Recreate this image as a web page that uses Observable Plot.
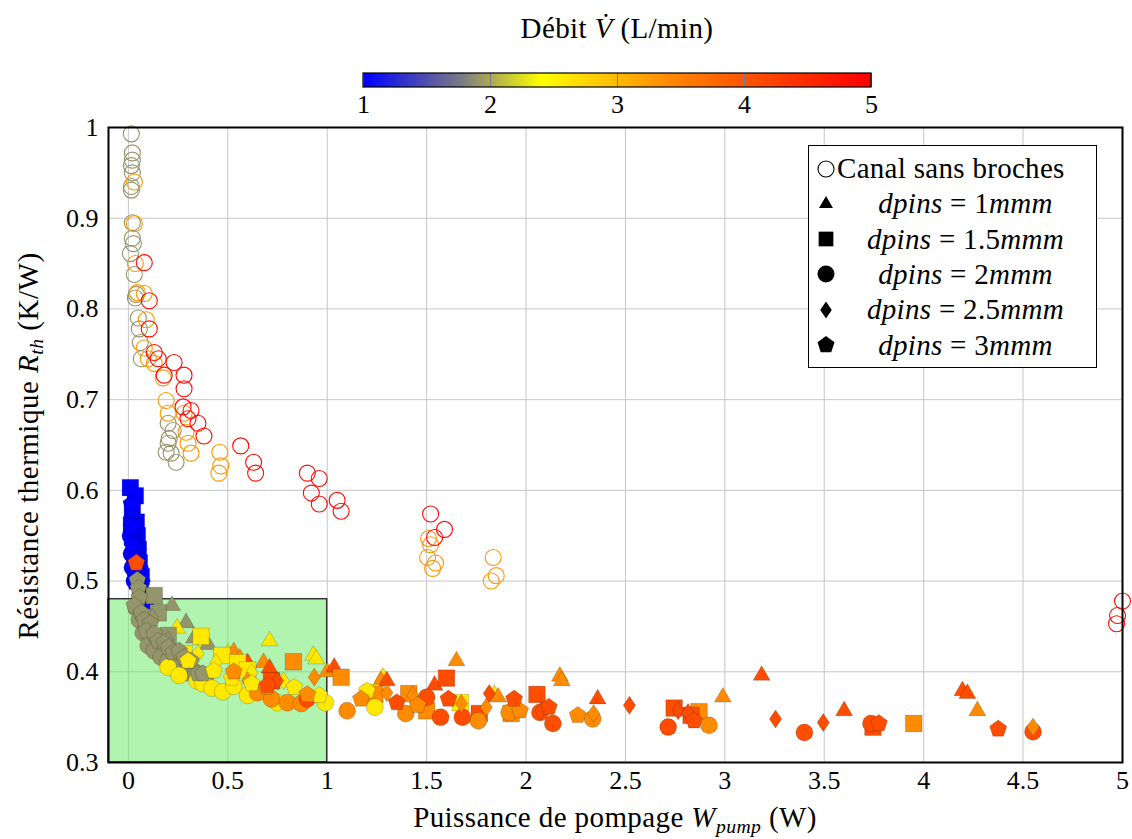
<!DOCTYPE html>
<html><head><meta charset="utf-8">
<script src="https://cdn.jsdelivr.net/npm/d3@7"></script>
<script src="https://cdn.jsdelivr.net/npm/@observablehq/plot@0.6"></script>
<style>
body{margin:0;background:#fff;}
#wrap{position:relative;width:1132px;height:839px;overflow:hidden;font-family:"Liberation Serif",serif;color:#000;}
.abs{position:absolute;}
#title{left:0;width:1234px;top:12px;text-align:center;font-size:29px;letter-spacing:0.4px;}
#cbar{left:0;top:60px;z-index:3;}
#xtitle{left:108px;width:1014px;top:801px;text-align:center;font-size:29px;letter-spacing:0.4px;line-height:32px;}
#ytitle{left:28px;top:446px;transform:translate(-50%,-50%) rotate(-90deg);white-space:nowrap;font-size:29px;letter-spacing:0.5px;}
#legend{left:808px;top:145px;width:287px;height:221px;border:1.5px solid #000;background:#fff;font-size:29px;z-index:2;}
.row{position:absolute;left:0;width:287px;height:35px;display:flex;align-items:center;}
.row svg{position:absolute;left:6px;}
.row .t{position:absolute;left:26px;right:0px;text-align:center;white-space:nowrap;letter-spacing:0.3px;}
sub{font-size:68%;vertical-align:-0.3em;line-height:0;}
</style></head><body><div id="wrap">
<div id="title" class="abs">Débit <i>V̇</i> (L/min)</div>
<div id="chart" class="abs" style="left:0;top:112px;"></div>
<div id="cbar" class="abs"></div>
<div id="xtitle" class="abs">Puissance de pompage <i>W</i><sub><i>pump</i></sub> (W)</div>
<div id="ytitle" class="abs">Résistance thermique <i>R</i><sub><i>th</i></sub> (K/W)</div>
<div id="legend" class="abs"></div>
</div>
<script>
// ---------- data: [W_pump (W), R_th (K/W), débit (L/min)] ----------
const canal = [
 [0.015,0.993,1.9],[0.02,0.972,1.9],[0.02,0.964,1.9],[0.015,0.958,1.9],[0.02,0.950,1.9],[0.015,0.935,1.9],[0.015,0.931,1.9],
 [0.02,0.895,1.9],[0.02,0.878,1.9],[0.025,0.872,1.9],[0.01,0.861,1.9],[0.03,0.838,1.9],[0.04,0.816,1.9],[0.035,0.812,1.9],
 [0.05,0.790,1.9],[0.055,0.778,1.9],[0.06,0.763,1.9],[0.065,0.745,1.9],[0.2,0.674,1.9],[0.225,0.666,1.9],[0.205,0.657,1.9],
 [0.2,0.652,1.9],[0.19,0.642,1.9],[0.215,0.641,1.9],[0.24,0.631,1.9],
 [0.03,0.940,3.3],[0.03,0.894,3.3],[0.035,0.850,3.3],[0.045,0.818,3.3],[0.08,0.817,3.3],[0.09,0.788,3.3],[0.08,0.757,3.3],
 [0.1,0.745,3.3],[0.13,0.740,3.3],[0.175,0.724,3.3],[0.19,0.699,3.3],[0.2,0.685,3.3],[0.28,0.685,3.3],[0.29,0.664,3.3],
 [0.3,0.652,3.3],[0.315,0.641,3.3],[0.46,0.642,3.3],[0.465,0.627,3.3],[0.455,0.619,3.3],
 [1.51,0.547,3.3],[1.52,0.540,3.3],[1.505,0.526,3.3],[1.545,0.520,3.3],[1.53,0.514,3.3],
 [1.835,0.526,3.3],[1.85,0.506,3.3],[1.825,0.500,3.3],
 [0.08,0.851,4.9],[0.105,0.809,4.9],[0.105,0.778,4.9],[0.13,0.752,4.9],[0.15,0.745,4.9],[0.23,0.741,4.9],[0.18,0.727,4.9],
 [0.28,0.727,4.9],[0.28,0.712,4.9],[0.275,0.692,4.9],[0.315,0.688,4.9],[0.3,0.679,4.9],[0.35,0.674,4.9],[0.38,0.660,4.9],
 [0.565,0.649,4.9],[0.63,0.631,4.9],[0.64,0.619,4.9],[0.9,0.619,4.9],[0.92,0.597,4.9],[0.96,0.585,4.9],[0.96,0.613,4.9],
 [1.05,0.589,4.9],[1.07,0.577,4.9],[1.52,0.574,4.9],[1.59,0.557,4.9],[1.54,0.548,4.9],
 [5.0,0.478,4.9],[4.975,0.462,4.9],[4.97,0.453,4.9]
];
const pins1 = [
 [0.02,0.59,1],[0.035,0.57,1],[0.04,0.555,1],[0.05,0.54,1],[0.06,0.52,1],[0.07,0.505,1],[0.08,0.49,1],
 [0.22,0.473,1.9],[0.29,0.454,1.9],[0.33,0.437,1.9],[0.4,0.43,1.9],
 [0.245,0.448,2.6],[0.5,0.42,2.6],[0.71,0.434,2.6],[0.93,0.418,2.6],[0.945,0.414,2.6],[1.28,0.394,2.6],[1.84,0.375,2.6],
 [0.53,0.422,3.4],[0.56,0.415,3.4],[0.68,0.41,3.4],[1.0,0.4,3.4],[1.27,0.39,3.4],[1.65,0.412,3.4],[1.86,0.372,3.4],
 [2.17,0.395,3.4],[2.18,0.39,3.4],[2.99,0.372,3.4],[4.27,0.357,3.4],
 [0.6,0.41,4.1],[0.71,0.404,4.1],[1.035,0.405,4.1],[1.3,0.39,4.1],[1.54,0.385,4.1],[2.36,0.37,4.1],[3.185,0.396,4.1],
 [3.6,0.357,4.1],[4.195,0.379,4.1],[4.22,0.376,4.1]
];
const pins15 = [
 [0.01,0.603,1],[0.035,0.594,1],[0.02,0.578,1],[0.04,0.565,1],[0.015,0.562,1],[0.045,0.55,1],[0.02,0.548,1],[0.05,0.535,1],
 [0.03,0.532,1],[0.055,0.52,1],[0.035,0.515,1],[0.065,0.505,1],[0.045,0.5,1],[0.06,0.49,1],[0.085,0.482,1],[0.07,0.478,1],
 [0.13,0.484,1.9],[0.15,0.465,1.9],[0.2,0.44,1.9],
 [0.28,0.42,2.6],[0.365,0.439,2.6],[0.47,0.418,2.6],[0.55,0.41,2.6],[0.6,0.402,2.6],[1.22,0.377,2.6],[1.67,0.366,2.6],
 [0.83,0.411,3.4],[1.07,0.394,3.4],[1.24,0.375,3.4],[1.41,0.376,3.4],[1.5,0.357,3.4],[1.925,0.354,3.4],[2.87,0.356,3.4],[3.95,0.343,3.4],
 [0.72,0.39,4.1],[1.6,0.393,4.1],[1.765,0.354,4.1],[2.055,0.375,4.1],[2.745,0.36,4.1],[2.83,0.352,4.1],[3.745,0.339,4.1]
];
const pins2 = [
 [0.01,0.55,1],[0.015,0.53,1],[0.02,0.515,1],[0.03,0.5,1],
 [0.04,0.47,1.9],[0.055,0.457,1.9],[0.075,0.443,1.9],[0.1,0.429,1.9],[0.13,0.423,1.9],[0.165,0.416,1.9],[0.2,0.412,1.9],
 [0.25,0.407,1.9],[0.29,0.399,1.9],[0.34,0.399,1.9],[0.39,0.396,1.9],
 [0.2,0.405,2.6],[0.255,0.396,2.6],[0.345,0.39,2.6],[0.375,0.387,2.6],[0.42,0.382,2.6],[0.475,0.378,2.6],[0.53,0.384,2.6],
 [0.6,0.374,2.6],[0.75,0.366,2.6],[0.99,0.366,2.6],[1.24,0.361,2.6],
 [0.65,0.377,3.4],[0.72,0.37,3.4],[0.8,0.366,3.4],[0.87,0.365,3.4],[1.1,0.357,3.4],[1.395,0.354,3.4],[1.76,0.346,3.4],
 [1.915,0.355,3.4],[2.335,0.348,3.4],[2.92,0.341,3.4],
 [0.9,0.37,4.1],[1.5,0.372,4.1],[1.57,0.35,4.1],[1.68,0.35,4.1],[2.07,0.355,4.1],[2.135,0.343,4.1],[2.715,0.339,4.1],
 [3.4,0.333,4.1],[3.735,0.343,4.1],[4.55,0.334,4.1]
];
const pins25 = [
 [0.02,0.575,1],[0.045,0.56,1],[0.025,0.545,1],[0.04,0.525,1],[0.06,0.515,1],[0.055,0.505,1],
 [0.12,0.46,1.9],[0.2,0.435,1.9],
 [0.35,0.42,2.6],[0.44,0.41,2.6],[0.62,0.399,2.6],[0.78,0.39,2.6],
 [0.6,0.39,3.4],[0.935,0.394,3.4],[1.3,0.377,3.4],[1.43,0.374,3.4],[1.675,0.365,3.4],[1.8,0.361,3.4],[2.34,0.354,3.4],
 [0.75,0.39,4.1],[1.815,0.376,4.1],[2.075,0.357,4.1],[2.52,0.363,4.1],[2.765,0.357,4.1],[2.815,0.355,4.1],[3.255,0.348,4.1],
 [3.495,0.344,4.1],[4.55,0.339,3.4]
];
const pins3 = [
 [0.015,0.585,1],[0.015,0.56,1],[0.02,0.54,1],[0.025,0.525,1],[0.035,0.51,1],[0.05,0.495,1],
 [0.04,0.52,4.1],
 [0.045,0.501,1.9],[0.05,0.492,1.9],[0.055,0.482,1.9],[0.03,0.473,1.9],[0.065,0.465,1.9],[0.08,0.457,1.9],[0.11,0.453,1.9],
 [0.09,0.445,1.9],[0.13,0.442,1.9],[0.15,0.434,1.9],[0.18,0.432,1.9],[0.2,0.427,1.9],[0.225,0.421,1.9],[0.255,0.423,1.9],
 [0.28,0.416,1.9],[0.315,0.412,1.9],[0.35,0.398,1.9],[0.375,0.398,1.9],
 [0.3,0.412,2.6],[0.43,0.401,2.6],[0.52,0.393,2.6],[0.62,0.387,2.6],[0.835,0.383,2.6],[0.96,0.374,2.6],[1.2,0.379,2.6],
 [0.53,0.4,3.4],[0.695,0.383,3.4],[0.9,0.375,3.4],[1.17,0.37,3.4],[1.455,0.363,3.4],[1.97,0.357,3.4],[2.26,0.352,3.4],
 [0.7,0.385,4.1],[1.35,0.366,4.1],[1.61,0.37,4.1],[1.94,0.37,4.1],[2.115,0.361,4.1],[2.845,0.346,4.1],[3.775,0.343,4.1],
 [4.375,0.337,4.1]
];
const zone = [{x1:-0.1, x2:1, y1:0.3, y2:0.48}];
const xTicks = [0,0.5,1,1.5,2,2.5,3,3.5,4,4.5,5];
const yTicks = [0.3,0.4,0.5,0.6,0.7,0.8,0.9,1];
const cTicks = [1,2,3,4,5];
const cmapStops = [1,1.8,2.4,3.5,5];
const cmapColors = ["#0000ff","#808080","#ffff00","#ff8000","#ff0000"];
const legendLabels = ["Canal sans broches","<i>dpins</i> = 1<i>mmm</i>","<i>dpins</i> = 1.5<i>mmm</i>","<i>dpins</i> = 2<i>mmm</i>","<i>dpins</i> = 2.5<i>mmm</i>","<i>dpins</i> = 3<i>mmm</i>"];

// ---------- colormap & symbols ----------
const cmap = d3.scaleLinear().domain(cmapStops).range(cmapColors).interpolate(d3.interpolateRgb);
const colorOpts = {type:"linear", domain:[1,5], interpolate: t => cmap(1 + 4*t)};
const triSym = {draw(c,s){const r=Math.sqrt(s/Math.PI)*1.15;const h=r*Math.sqrt(3)/2;c.moveTo(0,-r);c.lineTo(h,r/2);c.lineTo(-h,r/2);c.closePath();}};
const sqSym = {draw(c,s){const r=Math.sqrt(s/Math.PI)*0.92;c.rect(-r,-r,2*r,2*r);}};
const diaSym = {draw(c,s){const r=Math.sqrt(s/Math.PI);const w=r*0.68;c.moveTo(0,-r);c.lineTo(w,0);c.lineTo(0,r);c.lineTo(-w,0);c.closePath();}};
const penSym = {draw(c,s){const r=Math.sqrt(s/Math.PI)*1.05;for(let i=0;i<5;i++){const a=-Math.PI/2+i*2*Math.PI/5;const x=r*Math.cos(a),y=r*Math.sin(a);i?c.lineTo(x,y):c.moveTo(x,y);}c.closePath();}};

const filled = (data, sym, r) => Plot.dot(data, {x:d=>d[0], y:d=>d[1], fill:d=>d[2], symbol:()=>sym, r, stroke:"#000", strokeOpacity:0.18, strokeWidth:1});

const font = '"Liberation Serif", serif';
const chart = Plot.plot({
  width:1132, height:727, marginTop:15, marginBottom:77, marginLeft:108, marginRight:10,
  style:{fontFamily:font, fontSize:"26px", background:"transparent", color:"black"},
  x:{domain:[-0.1,5], label:null},
  y:{domain:[0.3,1], label:null},
  color:colorOpts,
  symbol:{type:"identity"},
  marks:[
    Plot.gridX(xTicks, {stroke:"#c6c6c6", strokeOpacity:1}),
    Plot.gridY(yTicks, {stroke:"#c6c6c6", strokeOpacity:1}),
    Plot.rect(zone, {x1:"x1", x2:"x2", y1:"y1", y2:"y2", fill:"#62ea62", fillOpacity:0.5, stroke:"#333", strokeWidth:1.5}),
    Plot.dot(canal, {x:d=>d[0], y:d=>d[1], stroke:d=>d[2], r:8, fill:"none", strokeWidth:1.1}),
    filled(pins1, triSym, 8.5),
    filled(pins15, sqSym, 9),
    filled(pins2, d3.symbolCircle, 8.5),
    filled(pins25, diaSym, 9),
    filled(pins3, penSym, 8.5),
    Plot.axisX(xTicks, {tickSize:0, tickPadding:8, tickFormat:d=>String(d), fontSize:26}),
    Plot.axisY(yTicks, {tickSize:0, tickPadding:10, tickFormat:d=>String(d), fontSize:26}),
    Plot.frame({stroke:"#000", strokeWidth:2})
  ]
});
document.getElementById("chart").appendChild(chart);

// ---------- colorbar ----------
const cb = Plot.legend({
  color:colorOpts, width:1132, height:64, marginLeft:363, marginRight:261, marginTop:13, marginBottom:37,
  ticks:cTicks, tickSize:0, tickFormat:d=>String(d), label:null,
  style:{fontFamily:font, fontSize:"26px", color:"black", background:"transparent", overflow:"visible"}
});
document.getElementById("cbar").appendChild(cb);
const cbs = d3.select(cb);
cbs.selectAll(".tick line").attr("stroke","#7a7a8a").attr("stroke-width",1);
cbs.selectAll(".tick text").attr("y",8).style("font-size","26px");
cbs.append("rect").attr("x",363).attr("y",13).attr("width",1132-363-261).attr("height",14)
  .attr("fill","none").attr("stroke","#000").attr("stroke-width",1.2);

// ---------- legend ----------
const lg = document.getElementById("legend");
const syms = [null, triSym, sqSym, d3.symbolCircle, diaSym, penSym];
const symR = [7, 7, 8, 8.5, 8.5, 8.5];
legendLabels.forEach((lab, i) => {
  const row = document.createElement("div");
  row.className = "row";
  row.style.top = (5 + i*35.3) + "px";
  let svg;
  if (i === 0) {
    svg = `<svg width="22" height="30" viewBox="-11 -15 22 30"><circle r="8" fill="none" stroke="#000" stroke-width="1.1"/></svg>`;
  } else {
    const p = d3.symbol(syms[i], Math.PI*symR[i]*symR[i])();
    svg = `<svg width="22" height="30" viewBox="-11 -15 22 30"><path d="${p}" fill="#000"/></svg>`;
  }
  const t = i === 0 ? `<span class="t" style="left:28px;text-align:left">${lab}</span>` : `<span class="t">${lab}</span>`;
  row.innerHTML = svg + t;
  lg.appendChild(row);
});
</script>
</body></html>
